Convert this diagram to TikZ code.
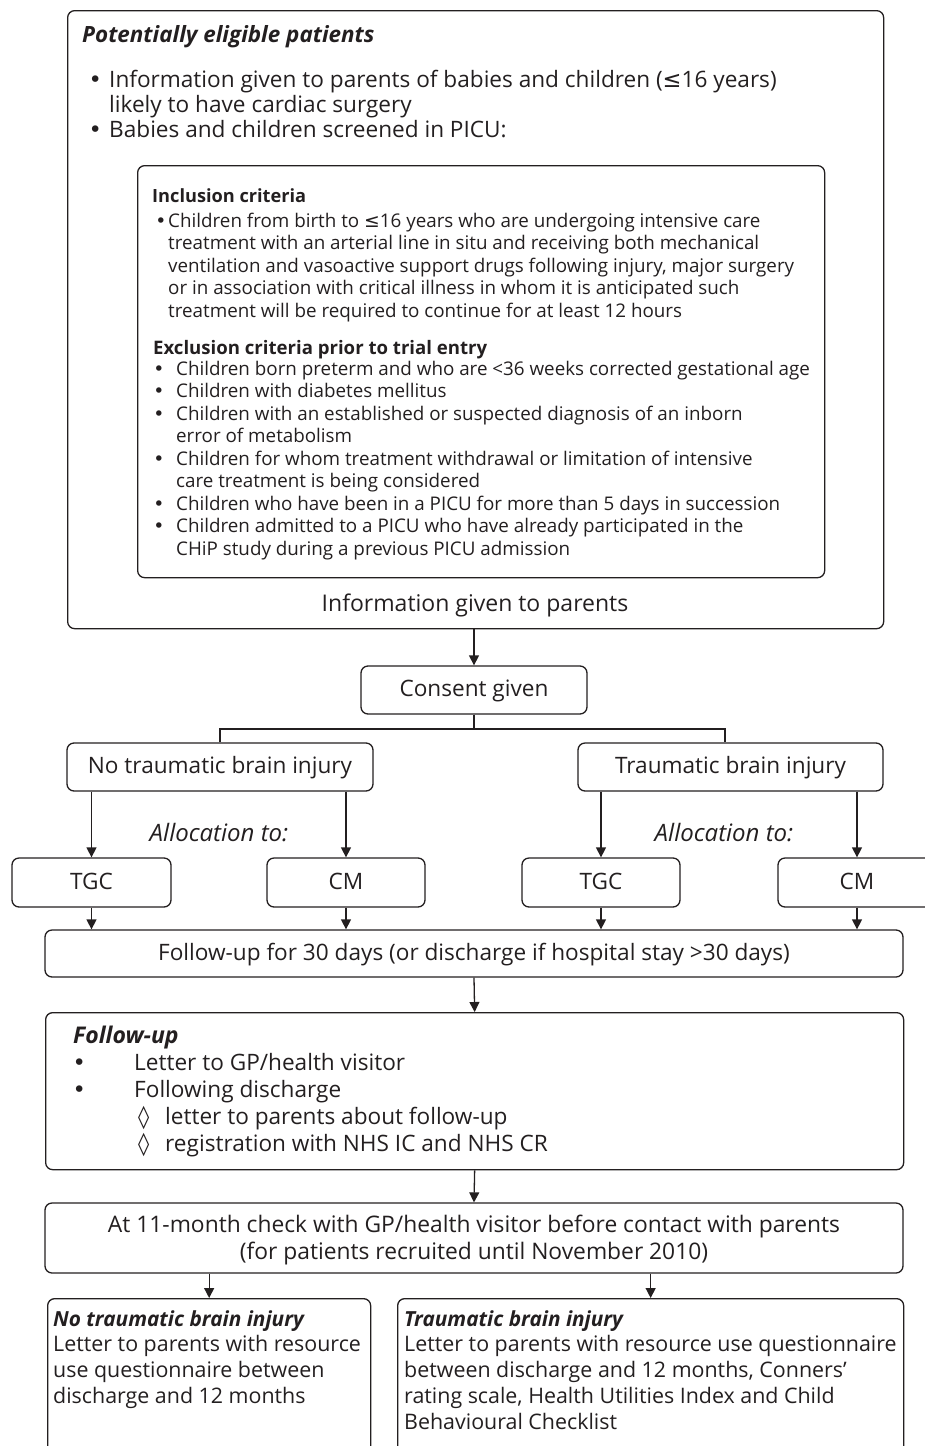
\documentclass[tikz,border=0pt]{standalone}
\usepackage{fontspec}
\setmainfont{Open Sans}
\newfontfamily\symf{DejaVu Sans}
\usetikzlibrary{arrows.meta}
\definecolor{ink}{HTML}{231F20}
\newcommand{\bul}{{\symf\hspace*{-0.2em}•}}
\begin{document}
\begin{tikzpicture}[x=1pt,y=-1pt,
  box/.style={draw=ink, line width=1.3pt, rounded corners=7pt, inner sep=0pt, text=ink},
  ln/.style={draw=ink, line width=1.3pt},
  arr/.style={draw=ink, line width=1.3pt, -{Triangle[length=10pt,width=10pt]}},
  tx/.style={text=ink, inner sep=0pt},
  big/.style={font=\fontsize{22.6}{25}\selectfont},
  small/.style={font=\fontsize{18.8}{22.5}\selectfont},
  bt/.style={text height=16pt, text depth=3pt}]
\useasboundingbox (0,0) rectangle (925,1446);
\clip (0,0) rectangle (925,1446);

% ---- top block
\node[box, minimum width=816pt, minimum height=618pt, anchor=north west] (outer) at (67,10) {};
\node[tx, anchor=base west, font=\fontsize{22.4}{25}\selectfont\bfseries\itshape] (t1) at (82,42) {Potentially eligible patients};
\node[tx, big, anchor=north west, align=left] (t2) at (93,69.5)
 {\strut\makebox[16pt][l]{\bul}Information given to parents of babies and children ({\symf ≤}16 years)\\
  \hspace*{16pt}likely to have cardiac surgery\\
  \makebox[16pt][l]{\bul}Babies and children screened in PICU:};

\node[box, minimum width=687pt, minimum height=412pt, anchor=north west] (inner) at (137,165) {};
\node[tx, anchor=base west, font=\fontsize{18.2}{22.5}\selectfont\bfseries] (inc) at (152,202) {Inclusion criteria};
\node[tx, small, anchor=north west, align=left] (inct) at (159,211.25)
 {\strut\makebox[9pt][l]{\bul}Children from birth to {\symf ≤}16 years who are undergoing intensive care\\
  \hspace*{9pt}treatment with an arterial line in situ and receiving both mechanical\\
  \hspace*{9pt}ventilation and vasoactive support drugs following injury, major surgery\\
  \hspace*{9pt}or in association with critical illness in whom it is anticipated such\\
  \hspace*{9pt}treatment will be required to continue for at least 12 hours};
\node[tx, anchor=base west, font=\fontsize{18.6}{22.5}\selectfont\bfseries] (exc) at (153,354) {Exclusion criteria prior to trial entry};
\node[tx, small, anchor=north west, align=left] (exct) at (157,359.25)
 {\strut\makebox[19pt][l]{\bul}Children born preterm and who are <36 weeks corrected gestational age\\
  \makebox[19pt][l]{\bul}Children with diabetes mellitus\\
  \makebox[19pt][l]{\bul}Children with an established or suspected diagnosis of an inborn\\
  \hspace*{19pt}error of metabolism\\
  \makebox[19pt][l]{\bul}Children for whom treatment withdrawal or limitation of intensive\\
  \hspace*{19pt}care treatment is being considered\\
  \makebox[19pt][l]{\bul}Children who have been in a PICU for more than 5 days in succession\\
  \makebox[19pt][l]{\bul}Children admitted to a PICU who have already participated in the\\
  \hspace*{19pt}CHiP study during a previous PICU admission};
\node[tx, font=\fontsize{23}{25}\selectfont, anchor=base] (info) at (475,611) {Information given to parents};

% ---- consent and branches
\node[box, big, bt, minimum width=226pt, minimum height=48pt] (consent) at (474,690) {Consent given};
\node[box, big, bt, minimum width=306pt, minimum height=48pt] (ntbi) at (220,767) {No traumatic brain injury};
\node[box, big, bt, minimum width=305pt, minimum height=48pt] (tbi) at (730.5,767) {Traumatic brain injury};
\node[tx, font=\fontsize{24}{25}\selectfont\itshape] (al1) at (219,833) {Allocation to:};
\node[tx, font=\fontsize{24}{25}\selectfont\itshape] (al2) at (724,833) {Allocation to:};
\node[box, big, bt, minimum width=159pt, minimum height=49pt] (tgc1) at (91.5,882.5) {TGC};
\node[box, big, bt, minimum width=158pt, minimum height=49pt] (cm1) at (346,882.5) {CM};
\node[box, big, bt, minimum width=158pt, minimum height=49pt] (tgc2) at (601,882.5) {TGC};
\node[box, big, bt, minimum width=158pt, minimum height=49pt] (cm2) at (857,882.5) {CM};
\node[box, big, bt, minimum width=858pt, minimum height=47pt] (fu1) at (474,953.5) {Follow-up for 30 days (or discharge if hospital stay >30 days)};

% ---- follow-up
\node[box, minimum width=858pt, minimum height=157pt, anchor=north west] (fu2) at (45,1012) {};
\node[tx, anchor=base west, font=\fontsize{23}{25}\selectfont\bfseries\itshape] (fut) at (73,1043) {Follow-up};
\node[tx, font=\fontsize{22.6}{27}\selectfont, anchor=north west, align=left] (ful) at (77,1051.1)
 {\strut\makebox[57pt][l]{\bul}Letter to GP/health visitor\\
  \makebox[57pt][l]{\bul}Following discharge\\
  \hspace*{61pt}\makebox[27pt][l]{\symf ◊}letter to parents about follow-up\\
  \hspace*{61pt}\makebox[27pt][l]{\symf ◊}registration with NHS IC and NHS CR};

\node[box, minimum width=858pt, minimum height=70pt] (b3) at (474,1238) {};
\node[tx, font=\fontsize{22.8}{27}\selectfont, anchor=north, align=center] (b3t) at (474,1213.1)
 {\strut At 11-month check with GP/health visitor before contact with parents\\
  (for patients recruited until November 2010)};

\node[box, minimum width=323pt, minimum height=190pt, anchor=north west] (nb) at (47,1298) {};
\node[box, minimum width=506pt, minimum height=190pt, anchor=north west] (tb) at (397,1298) {};
\node[tx, font=\fontsize{21.4}{25.7}\selectfont, anchor=north west, align=left] (nbt) at (53,1308)
 {\strut{\fontsize{20.8}{25.7}\selectfont\bfseries\itshape No traumatic brain injury}\\
  Letter to parents with resource\\
  use questionnaire between\\
  discharge and 12 months};
\node[tx, font=\fontsize{21.4}{25.7}\selectfont, anchor=north west, align=left] (tbt) at (404,1308)
 {\strut{\fontsize{20.8}{25.7}\selectfont\bfseries\itshape Traumatic brain injury}\\
  Letter to parents with resource use questionnaire\\
  between discharge and 12 months, Conners’\\
  rating scale, Health Utilities Index and Child\\
  Behavioural Checklist};

% ---- connectors
\draw[arr] (outer.south -| consent.north) -- (consent.north);
\coordinate (br) at (474,729);
\draw[ln] (consent.south) -- (br);
\draw[ln] (ntbi.north) |- (br) -| ([xshift=-5.5pt]tbi.north);
\draw[arr] (ntbi.south -| tgc1.north) -- (tgc1.north);
\draw[arr] (ntbi.south -| cm1.north) -- (cm1.north);
\draw[arr] (tbi.south -| tgc2.north) -- (tgc2.north);
\draw[arr] (tbi.south -| cm2.north) -- (cm2.north);
\draw[arr] (tgc1.south) -- (tgc1.south |- fu1.north);
\draw[arr] (cm1.south) -- (cm1.south |- fu1.north);
\draw[arr] (tgc2.south) -- (tgc2.south |- fu1.north);
\draw[arr] (cm2.south) -- (cm2.south |- fu1.north);
\draw[arr] (fu1.south) -- (fu2.north);
\draw[arr] (fu2.south) -- (b3.north);
\draw[arr] (b3.south -| nb.north) -- (nb.north);
\draw[arr] (b3.south -| tb.north) -- (tb.north);
\end{tikzpicture}
\end{document}
